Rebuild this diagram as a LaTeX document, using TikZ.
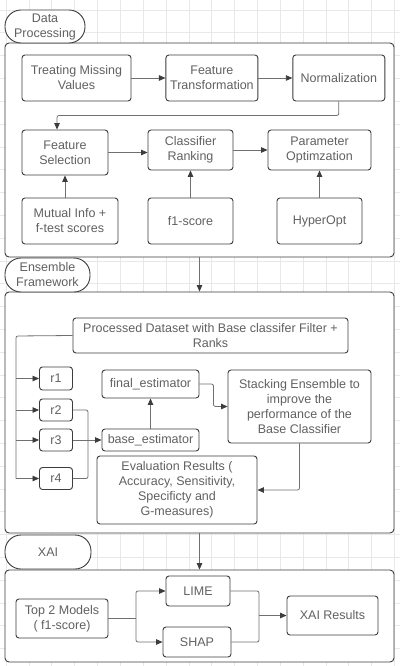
\documentclass[tikz,border=0pt]{standalone}
\usepackage{fontspec}
\setmainfont{Liberation Sans}
\usetikzlibrary{arrows.meta,positioning}
\definecolor{ink}{HTML}{3C3C3C}
\definecolor{txt}{HTML}{616161}
\definecolor{wire}{HTML}{707070}
\definecolor{gridc}{HTML}{E8E8E8}
\tikzset{
  box/.style={draw=ink, rectangle, rounded corners=3pt, fill=white, align=center, text=txt, inner sep=2pt, line width=0.9pt, font=\fontsize{12.5}{15}\selectfont},
  pill/.style={box, rounded corners=16pt},
  frame/.style={draw=ink, fill=white, rectangle, rounded corners=4pt, line width=0.9pt},
  arr/.style={-{Triangle[length=6.5pt,width=5.5pt,color=ink]}, draw=wire, line width=0.8pt, rounded corners=2pt},
  wln/.style={draw=wire, line width=0.8pt, rounded corners=2pt}
}
\begin{document}
\begin{tikzpicture}[x=1pt, y=-1pt]
\useasboundingbox (0,0) rectangle (400,666);
\foreach \gx in {6,28.85,...,400} \draw[gridc, line width=0.6pt] (\gx,0) -- (\gx,666);
\foreach \gy in {10,32.8,...,666} \draw[gridc, line width=0.6pt] (0,\gy) -- (400,\gy);

\node[frame, minimum width=389, minimum height=214] (c1) at (199.5,150) {};
\node[frame, minimum width=389, minimum height=241] (c2) at (199.5,412.5) {};
\node[frame, minimum width=389, minimum height=92] (c3) at (199.5,616) {};
\node[pill, minimum width=80, minimum height=33] (dp) at (45,26.5) {Data\\Processing};
\node[pill, minimum width=85, minimum height=34] (ef) at (47.5,275) {Ensemble\\Framework};
\node[pill, minimum width=86, minimum height=34] (xai) at (48,552) {XAI};
\draw[arr] (c1.south) -- (c2.north);
\draw[arr] (c2.south) -- (c3.north);

\node[box, minimum width=109, minimum height=46] (tmv) at (76.5,78) {Treating Missing\\Values};
\node[box, minimum width=92, minimum height=46, right=34pt of tmv] (ft) {Feature\\Transformation};
\node[box, minimum width=92, minimum height=46, right=34pt of ft] (norm) {Normalization};
\node[box, minimum width=86, minimum height=45] (fs) at (65,152.5) {Feature\\Selection};
\node[box, minimum width=85, minimum height=40] (cr) at (190.5,150) {Classifier\\Ranking};
\node[box, minimum width=103, minimum height=40] (po) at (319.5,150) {Parameter\\Optimzation};
\node[box, minimum width=96, minimum height=46] (mi) at (70,221) {Mutual Info +\\f-test scores};
\node[box, minimum width=85, minimum height=46] (f1) at (190.5,221) {f1-score};
\node[box, minimum width=85, minimum height=46] (ho) at (319.5,221) {HyperOpt};
\draw[arr] (tmv) -- (ft);
\draw[arr] (ft) -- (norm);
\draw[arr] (norm.south) -- ++(0,14) -| ([xshift=-8pt]fs.north);
\draw[arr] (fs.east) -- (fs.east -| cr.west);
\draw[arr] (cr) -- (po);
\draw[arr] (mi.north -| fs.south) -- (fs.south);
\draw[arr] (f1) -- (cr);
\draw[arr] (ho) -- (po);

\node[box, minimum width=275, minimum height=35] (pd) at (210.5,335.5) {Processed Dataset with Base classifer Filter +\\Ranks};
\node[box, minimum width=33, minimum height=23] (r1) at (56,378.5) {r1};
\node[box, minimum width=33, minimum height=22] (r2) at (56,410) {r2};
\node[box, minimum width=33, minimum height=22] (r3) at (56,440) {r3};
\node[box, minimum width=33, minimum height=22] (r4) at (56,478.5) {r4};
\node[box, minimum width=97, minimum height=28] (fe) at (150.5,384) {final\_estimator};
\node[box, minimum width=97, minimum height=22] (be) at (150.5,440) {base\_estimator};
\node[box, minimum width=143, minimum height=73] (se) at (299.5,406.5) {Stacking Ensemble to\\improve the\\performance of the\\Base Classifier};
\node[box, minimum width=160, minimum height=68] (ev) at (177,490) {Evaluation Results (\\Accuracy, Sensitivity,\\Specificty and\\G-measures)};
\coordinate (trunk) at (16,336);
\coordinate (join) at (88,440);
\draw[wln] (pd.west) -- (trunk) -- (trunk |- r4.west);
\foreach \r in {r1,r2,r3,r4} \draw[arr] (trunk |- \r.west) -- (\r.west);
\draw[wln] (r2.east) -| (join);
\draw[wln] (r4.east) -| (join);
\draw[arr] (r3.east) -- (be.west);
\draw[arr] (be) -- (fe);
\draw[arr] (fe.east) -- ++(14,0) |- (se.west);
\draw[arr] (se.south) |- (ev.east);

\node[box, minimum width=92, minimum height=39] (t2) at (62,618.5) {Top 2 Models\\( f1-score)};
\node[box, minimum width=64, minimum height=30] (lime) at (198,591) {LIME};
\node[box, minimum width=68, minimum height=30] (shap) at (197,642) {SHAP};
\node[box, minimum width=91, minimum height=39] (xr) at (332.5,615.5) {XAI Results};
\coordinate (split) at (136,618.5);
\coordinate (merge) at (259,615.5);
\draw[wln] (t2.east) -- (split);
\draw[arr] (split) |- (lime.west);
\draw[arr] (split) |- (shap.west);
\draw[wln] (lime.east) -| (merge);
\draw[wln] (shap.east) -| (merge);
\draw[arr] (merge) -- (xr.west);
\end{tikzpicture}
\end{document}
